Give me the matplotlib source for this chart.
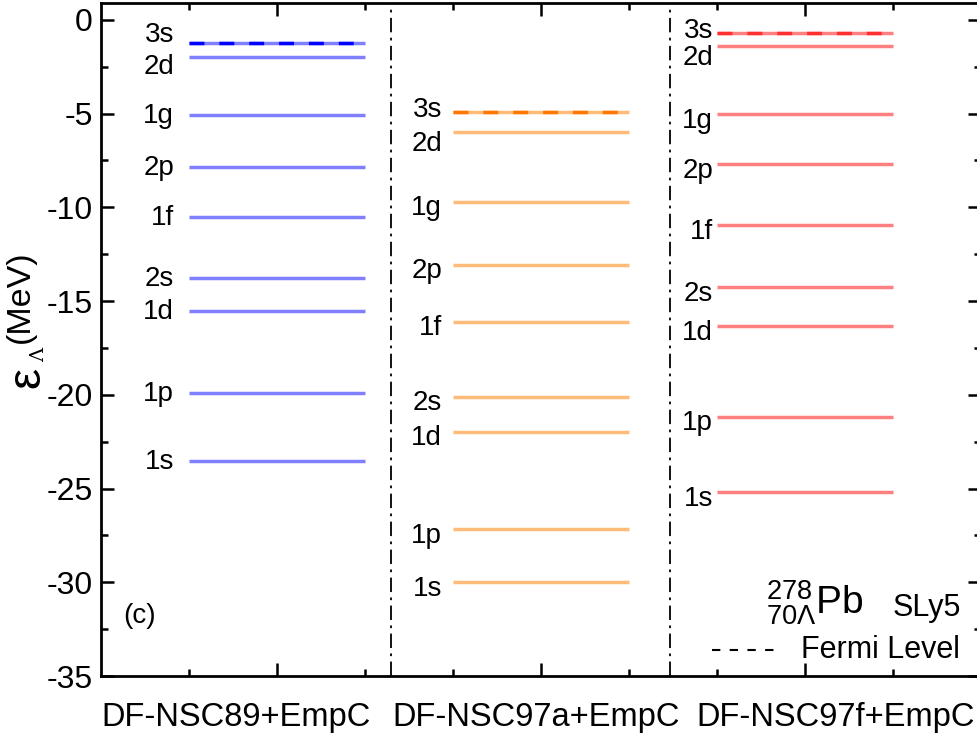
import matplotlib
matplotlib.use("Agg")
import matplotlib.pyplot as plt
from matplotlib.ticker import MultipleLocator, FixedLocator, NullFormatter

plt.rcParams['font.family'] = ['Liberation Sans', 'DejaVu Sans']
plt.rcParams['axes.unicode_minus'] = False
plt.rcParams['mathtext.fontset'] = 'custom'
plt.rcParams['mathtext.rm'] = 'Liberation Sans'

# Lambda single-particle levels (MeV) for each interaction
states = ['3s', '2d', '1g', '2p', '1f', '2s', '1d', '1p', '1s']
e_nsc89 = [-1.24, -1.96, -5.07, -7.83, -10.5, -13.77, -15.53, -19.9, -23.53]
e_nsc97a = [-4.93, -5.98, -9.7, -13.07, -16.1, -20.1, -21.98, -27.16, -29.99]
e_nsc97f = [-0.71, -1.39, -5.03, -7.7, -10.94, -14.25, -16.33, -21.18, -25.19]
models = ['DF-NSC89+EmpC', 'DF-NSC97a+EmpC', 'DF-NSC97f+EmpC']
model_label_x = [1.53, 4.95, 8.35]

# (values, left end of level lines, light colour, dashed colour, label gap)
panels = [
    (e_nsc89, 1, '#8080ff', '#0000ff', 0.17),
    (e_nsc97a, 4, '#ffbb77', '#ff7700', 0.125),
    (e_nsc97f, 7, '#ff8080', '#ff3030', 0.045),
]

fig = plt.figure(figsize=(9.78, 7.4), dpi=100)
ax = fig.add_axes([101 / 978, 64 / 740, 880 / 978, 673 / 740])

for energies, x0, light, dark, gap in panels:
    for name, e in zip(states, energies):
        ax.plot([x0, x0 + 2], [e, e], color=light, lw=2.5, solid_capstyle='butt')
        if name == '3s':
            # Fermi level: darker dashes on top
            ax.plot([x0, x0 + 1.9], [e, e], color=dark, lw=2.5,
                    dashes=(4.3, 4.3), dash_capstyle='butt')
        # label offsets (3s above, 2d below)
        dy = {'3s': 0.1, '2d': -0.65}.get(name, -0.35)
        if x0 == 1:
            dy = {'3s': 0.45, '2d': -0.55}.get(name, -0.05)
        ax.text(x0 - gap, e + dy, name, ha='right', va='center', fontsize=20)

# separators between panels
for xs in [3.3, 6.47]:
    ax.axvline(xs, color='black', lw=1.3, dashes=(8, 3, 1.5, 3))

ax.set_xlim(0, 10)
ax.set_ylim(-35, 0.9)
ax.yaxis.set_major_locator(MultipleLocator(5))
ax.yaxis.set_minor_locator(MultipleLocator(2.5))
ax.xaxis.set_major_locator(FixedLocator([2, 5, 8]))
ax.xaxis.set_minor_locator(FixedLocator([1, 3, 4, 6, 7, 9]))
ax.xaxis.set_major_formatter(NullFormatter())
ax.tick_params(which='both', direction='in', top=True, right=True, width=1.8)
ax.tick_params(which='major', length=9.5, labelsize=23)
ax.tick_params(which='minor', length=5)
ax.tick_params(axis='y', pad=6)
for s in ax.spines.values():
    s.set_linewidth(2)

for xm, name in zip(model_label_x, models):
    ax.text(xm, -0.061, name, transform=ax.get_xaxis_transform(),
            ha='center', va='center', fontsize=23.5)

# y label: large epsilon with Lambda subscript, then (MeV)
fig.text(20 / 978, 1 - 297 / 740, '(MeV)', rotation=90, ha='center',
         va='center', fontsize=24.5)
fig.text(7 / 978, 1 - 379 / 740, r'$\mathrm{ε}$', rotation=90, ha='left',
         va='center', fontsize=34)
fig.text(39 / 978, 1 - 355 / 740, 'Λ', rotation=90, ha='center',
         va='center', fontsize=14, family='DejaVu Serif')

ax.text(0.25, -31.8, '(c)', fontsize=20, va='center')
ax.text(7.56, -31.1, r'$^{278}_{70\Lambda}$Pb', fontsize=28, va='center')
ax.text(9.0, -31.35, 'SLy5', fontsize=22, va='center')
ax.plot([6.94, 7.72], [-33.6, -33.6], color='black', lw=1.5, dashes=(4, 4.5))
ax.text(7.95, -33.6, 'Fermi Level', fontsize=22, va='center')

fig.savefig('out.png', dpi=100)
